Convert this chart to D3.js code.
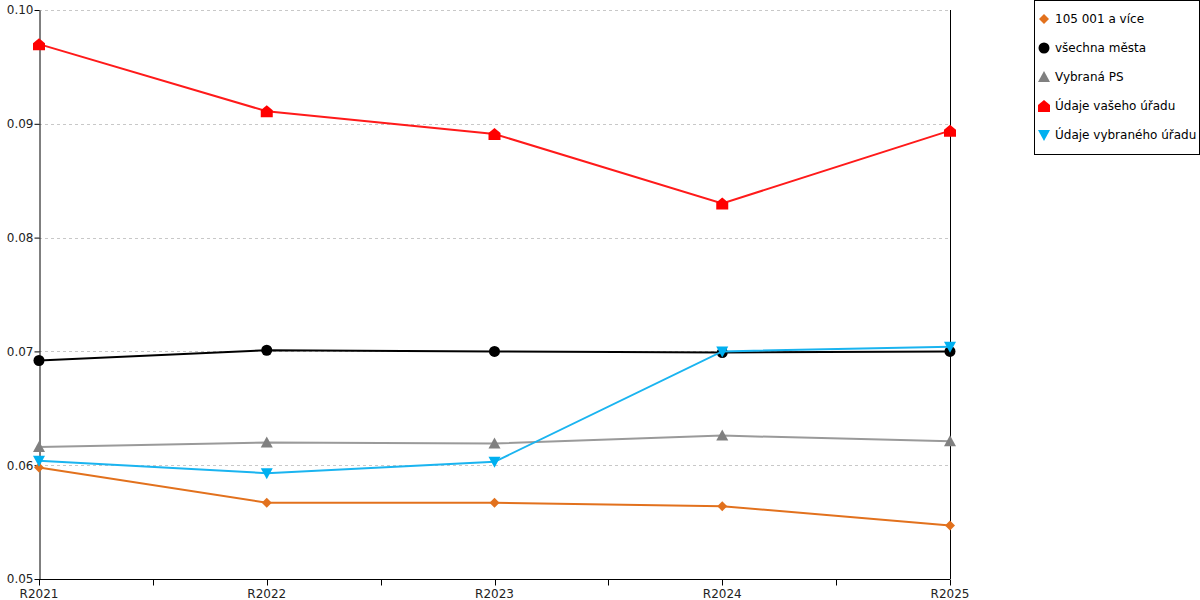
<!DOCTYPE html>
<html>
<head>
<meta charset="utf-8">
<script src="https://cdn.jsdelivr.net/npm/d3@7"></script>
<style>
  body { margin: 0; background: #fff; }
  text { font-family: "DejaVu Sans", Verdana, sans-serif; }
</style>
</head>
<body>
<script>
const WIDTH = 1200;
const HEIGHT = 600;

// data
const years = ["R2021", "R2022", "R2023", "R2024", "R2025"];
const seriesNames = ["105 001 a více", "všechna města", "Vybraná PS", "Údaje vašeho úřadu", "Údaje vybraného úřadu"];
const big = [0.0598, 0.0567, 0.0567, 0.0564, 0.0547];
const allCities = [0.0692, 0.0701, 0.0700, 0.0699, 0.0700];
const selectedPS = [0.0616, 0.0620, 0.0619, 0.0626, 0.0621];
const yourOffice = [0.0970, 0.0911, 0.0891, 0.0830, 0.0894];
const selectedOffice = [0.0604, 0.0593, 0.0603, 0.0700, 0.0704];
const yTicks = [0.05, 0.06, 0.07, 0.08, 0.09, 0.10];

const colors = ["#e2711d", "#000000", "#808080", "#ff0000", "#00b0f0"];
const lineColors = ["#e2711d", "#000000", "#9a9a9a", "#ff1a1a", "#1ab4f0"];
const shapes = ["diamond", "circle", "up", "house", "down"];
const values = [big, allCities, selectedPS, yourOffice, selectedOffice];

const plotLeft = 39, plotRight = 950, plotTop = 10, plotBottom = 579;

var svg = d3.select("body").append("svg")
    .attr("width", WIDTH)
    .attr("height", HEIGHT);

var x = d3.scalePoint().domain(years).range([plotLeft, plotRight]);
var y = d3.scaleLinear().domain([0.05, 0.10]).range([plotBottom, plotTop]);

// dashed gridlines
svg.append("g").selectAll("line")
    .data(yTicks.filter(d => d > 0.05))
    .enter().append("line")
    .attr("x1", plotLeft).attr("x2", plotRight)
    .attr("y1", d => Math.round(y(d)) + 0.5)
    .attr("y2", d => Math.round(y(d)) + 0.5)
    .attr("stroke", "#c8c8c8")
    .attr("stroke-dasharray", "3,3");

// right border line
svg.append("line")
    .attr("x1", plotRight + 0.5).attr("x2", plotRight + 0.5)
    .attr("y1", plotTop).attr("y2", plotBottom)
    .attr("stroke", "#000");

// y axis
var yAxis = d3.axisLeft(y).tickValues(yTicks).tickFormat(d3.format(".2f")).tickSize(5).tickSizeOuter(0);
var gy = svg.append("g").attr("transform", "translate(" + (plotLeft + 0.5) + ",0)").call(yAxis);
gy.selectAll("text").attr("font-size", 12).attr("fill", "#222").attr("x", -6)
    .style("font-family", "DejaVu Sans, Verdana, sans-serif");

// x axis with minor ticks between categories
var gx = svg.append("g").attr("transform", "translate(0," + (plotBottom + 0.5) + ")");
gx.append("line").attr("x1", plotLeft).attr("x2", plotRight).attr("stroke", "#000");
var step = x.step();
var tickPos = [];
years.forEach(function (yr, i) {
    tickPos.push(x(yr));
    if (i < years.length - 1) tickPos.push(x(yr) + step / 2);
});
gx.selectAll(".tk").data(tickPos).enter().append("line")
    .attr("x1", d => Math.round(d) + 0.5).attr("x2", d => Math.round(d) + 0.5)
    .attr("y1", 0).attr("y2", 6)
    .attr("stroke", "#000");
gx.selectAll(".lb").data(years).enter().append("text")
    .attr("x", d => x(d))
    .attr("y", 18)
    .attr("text-anchor", "middle")
    .attr("font-size", 12)
    .attr("fill", "#222")
    .text(d => d);

function markerPath(shape) {
    switch (shape) {
        case "diamond": return "M0,-5L5,0L0,5L-5,0Z";
        case "circle": return d3.symbol().type(d3.symbolCircle).size(95)();
        case "up": return "M0,-6L6,5L-6,5Z";
        case "down": return "M0,6L6,-5L-6,-5Z";
        case "house": return "M0,-6L6,-1L6,6L-6,6L-6,-1Z";
    }
}

var line = d3.line().x((d, i) => x(years[i])).y(d => y(d));

values.forEach(function (vals, s) {
    var g = svg.append("g");
    g.append("path")
        .datum(vals)
        .attr("d", line)
        .attr("fill", "none")
        .attr("stroke", lineColors[s])
        .attr("stroke-width", 2);
    g.selectAll("path.m").data(vals).enter().append("path")
        .attr("class", "m")
        .attr("d", markerPath(shapes[s]))
        .attr("transform", (d, i) => "translate(" + x(years[i]) + "," + y(d) + ")")
        .attr("fill", colors[s]);
});

// legend
var lg = svg.append("g");
lg.append("rect")
    .attr("x", 1034.5).attr("y", 0.5)
    .attr("width", 165).attr("height", 154)
    .attr("fill", "#fff").attr("stroke", "#000");
seriesNames.forEach(function (name, s) {
    var ly = 19 + s * 29;
    lg.append("path")
        .attr("d", markerPath(shapes[s]))
        .attr("transform", "translate(1044," + ly + ")")
        .attr("fill", colors[s]);
    lg.append("text")
        .attr("x", 1055).attr("y", ly + 4)
        .attr("font-size", 12)
        .attr("fill", "#000")
        .text(name);
});
</script>
</body>
</html>
